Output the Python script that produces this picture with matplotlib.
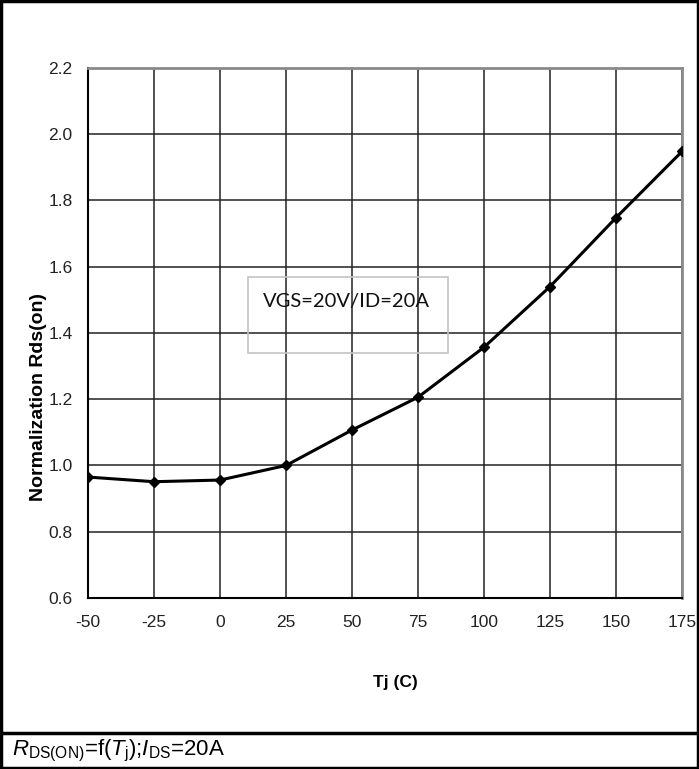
import matplotlib
matplotlib.use('Agg')
from matplotlib import pyplot as plt
from matplotlib.lines import Line2D
from matplotlib.patches import Rectangle

# junction temperature (C) vs normalized Rds(on)
tj = [-50, -25, 0, 25, 50, 75, 100, 125, 150, 175]
rds_norm = [0.965, 0.951, 0.956, 1.0, 1.107, 1.206, 1.357, 1.54, 1.748, 1.948]

x_ticks = [-50, -25, 0, 25, 50, 75, 100, 125, 150, 175]
y_ticks = [0.6, 0.8, 1.0, 1.2, 1.4, 1.6, 1.8, 2.0, 2.2]

SANS = ['Liberation Sans', 'DejaVu Sans']
BOX_FONT = ['Lato', 'Liberation Sans', 'DejaVu Sans']

plt.rcParams['mathtext.fontset'] = 'custom'
plt.rcParams['mathtext.rm'] = 'Liberation Sans'
plt.rcParams['mathtext.it'] = 'Liberation Sans:italic'

fig = plt.figure(figsize=(6.99, 7.69), dpi=100)
ax = fig.add_axes([0.1259, 0.2224, 0.8498, 0.6892])

ax.plot(tj, rds_norm, color='black', lw=2.2, marker='D', markersize=5,
        markeredgecolor='black', zorder=3)

ax.set_xlim(-50, 175)
ax.set_ylim(0.6, 2.2)
ax.set_xticks(x_ticks)
ax.set_yticks(y_ticks)
ax.set_xticklabels([str(v) for v in x_ticks], family=SANS, fontsize=12.5, color='#222222')
ax.set_yticklabels([f'{v:.1f}' for v in y_ticks], family=SANS, fontsize=12.5, color='#222222')
ax.tick_params(axis='y', length=0, pad=11)
ax.tick_params(axis='x', length=0, pad=12)
ax.grid(True, color='#222222', lw=1.1)
ax.set_axisbelow(True)

for side in ['left', 'bottom']:
    ax.spines[side].set_color('black')
    ax.spines[side].set_linewidth(1.5)
for side in ['top', 'right']:
    ax.spines[side].set_color('#8a8a8a')
    ax.spines[side].set_linewidth(2)

ax.set_ylabel('Normalization Rds(on)', family=SANS, fontweight='bold',
              fontsize=14, va='center')
ax.yaxis.set_label_coords(-0.0825, 0.379)
ax.set_xlabel('Tj (C)', family=SANS, fontweight='bold', fontsize=12.5, va='center')
ax.xaxis.set_label_coords(0.517, -0.160)

# condition box
ax.add_patch(Rectangle((10.6, 1.34), 75.8, 0.23, fill=False,
                       edgecolor='#c4c4c4', lw=1.2, zorder=4))
ax.text(16.3, 1.494, 'VGS=20V/ID=20A', family=BOX_FONT, fontsize=14.5,
        color='#111111', va='center', ha='left', zorder=5)

# outer frame and caption row
fig.add_artist(Rectangle((0.0015, 0.0015), 0.997, 0.997, transform=fig.transFigure,
                         fill=False, edgecolor='black', lw=2.5))
fig.add_artist(Line2D([0, 1], [0.0468, 0.0468], transform=fig.transFigure,
                      color='black', lw=2.5))
fig.text(0.0167, 0.0182,
         r'$R_{\mathrm{DS(ON)}}$=f($T_{\mathrm{j}}$);$I_{\mathrm{DS}}$=20A',
         family=SANS, fontsize=16, va='baseline', ha='left')

fig.savefig('out.png', dpi=100)
